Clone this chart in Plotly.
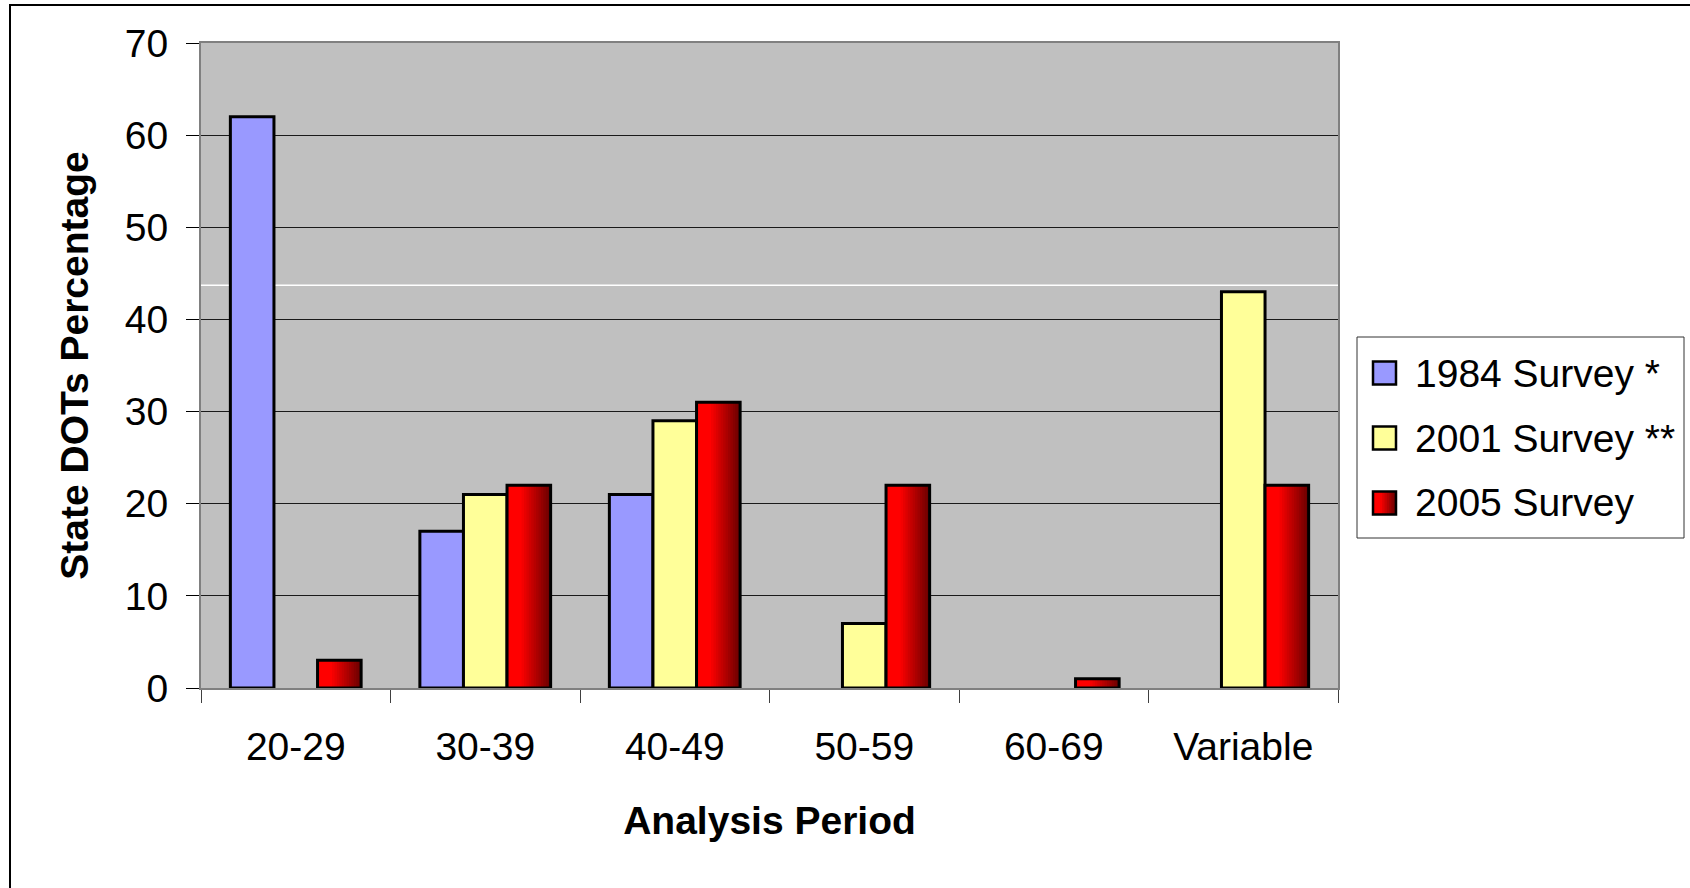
import plotly.graph_objects as go

# ---------------- data ----------------
categories = ["20-29", "30-39", "40-49", "50-59", "60-69", "Variable"]
survey_names = ["1984 Survey *", "2001 Survey **", "2005 Survey"]
values_1984 = [62, 17, 21, 0, 0, 0]
values_2001 = [0, 21, 29, 7, 0, 43]
values_2005 = [3, 22, 31, 22, 1, 22]
y_tick_values = [0, 10, 20, 30, 40, 50, 60, 70]
x_title = "Analysis Period"
y_title = "State DOTs Percentage"

# ---------------- style ----------------
W, H = 1690, 888
L, R, T, B = 201, 352, 43, 200
PW, PH = W - L - R, H - T - B
FONT = "Liberation Sans, Arial, sans-serif"
BLUE = "#9999FF"
YELLOW = "#FFFF99"
BAR_W = 0.23
OFFSETS = [-0.345, -0.115, 0.115]
N_STRIPS = 18


def red_grad(t):
    # bright red on the left, fading to dark red on the right
    if t < 0.3:
        r = 255
    else:
        r = int(round(255 - (255 - 110) * (t - 0.3) / 0.7))
    return "rgb(%d,0,0)" % r


def nz(vals):
    return [v if v != 0 else None for v in vals]


def px_x(p):
    return (p - L) / PW


def px_y(p):
    return (H - B - p) / PH


fig = go.Figure()

# solid series
for vals, col, off in [(values_1984, BLUE, OFFSETS[0]), (values_2001, YELLOW, OFFSETS[1])]:
    fig.add_trace(go.Bar(
        x=categories, y=nz(vals), width=BAR_W, offset=off,
        marker=dict(color=col, line=dict(color="black", width=3)),
        showlegend=False,
    ))

# gradient series: overlapping thin strips + outline
sw = BAR_W / N_STRIPS
for i in range(N_STRIPS):
    t = i / (N_STRIPS - 1)
    w = sw * 1.7 if i < N_STRIPS - 1 else sw
    fig.add_trace(go.Bar(
        x=categories, y=nz(values_2005), width=w, offset=OFFSETS[2] + i * sw,
        marker=dict(color=red_grad(t), line=dict(width=0)),
        showlegend=False, hoverinfo="skip",
    ))
fig.add_trace(go.Bar(
    x=categories, y=nz(values_2005), width=BAR_W, offset=OFFSETS[2],
    marker=dict(color="rgba(0,0,0,0)", line=dict(color="black", width=3)),
    showlegend=False, name=survey_names[2],
))

shapes = []
annotations = []

# faint white artifact line in plot area
shapes.append(dict(type="line", xref="paper", yref="y", x0=0, x1=1, y0=43.7, y1=43.7,
                   line=dict(color="white", width=1.5), layer="between"))

# outer chart border (top and left visible)
shapes.append(dict(type="rect", xref="paper", yref="paper",
                   x0=px_x(10), x1=px_x(W + 20), y0=px_y(H + 20), y1=px_y(5),
                   line=dict(color="black", width=2), fillcolor="rgba(0,0,0,0)", layer="above"))

# custom legend
shapes.append(dict(type="rect", xref="paper", yref="paper",
                   x0=px_x(1357), x1=px_x(1684), y0=px_y(538), y1=px_y(337),
                   line=dict(color="#333333", width=1), fillcolor="white", layer="above"))
row_centers = [373, 438, 503]
sx0, sx1 = 1373, 1396
swatch_fill = [BLUE, YELLOW, None]
for k, name in enumerate(survey_names):
    cy = row_centers[k]
    y0, y1 = px_y(cy + 11.5), px_y(cy - 11.5)
    if swatch_fill[k] is None:
        n = 10
        step = (sx1 - sx0) / n
        for i in range(n):
            shapes.append(dict(type="rect", xref="paper", yref="paper",
                               x0=px_x(sx0 + i * step), x1=px_x(sx0 + (i + 1) * step + 0.8),
                               y0=y0, y1=y1, line=dict(width=0),
                               fillcolor=red_grad(i / (n - 1)), layer="above"))
        shapes.append(dict(type="rect", xref="paper", yref="paper",
                           x0=px_x(sx0), x1=px_x(sx1), y0=y0, y1=y1,
                           line=dict(color="black", width=2.5),
                           fillcolor="rgba(0,0,0,0)", layer="above"))
    else:
        shapes.append(dict(type="rect", xref="paper", yref="paper",
                           x0=px_x(sx0), x1=px_x(sx1), y0=y0, y1=y1,
                           line=dict(color="black", width=2.5),
                           fillcolor=swatch_fill[k], layer="above"))
    annotations.append(dict(xref="paper", yref="paper", x=px_x(1413), y=px_y(cy),
                            xanchor="left", yanchor="middle", text=name, showarrow=False,
                            font=dict(family=FONT, size=39, color="black")))

fig.update_layout(
    width=W, height=H,
    margin=dict(l=L, r=R, t=T, b=B, pad=0),
    paper_bgcolor="white",
    plot_bgcolor="#C0C0C0",
    barmode="overlay",
    showlegend=False,
    font=dict(family=FONT, color="black"),
    shapes=shapes,
    annotations=annotations,
    xaxis=dict(
        type="category", categoryarray=categories, categoryorder="array",
        range=[-0.5, len(categories) - 0.5],
        showgrid=False, zeroline=False,
        showline=True, linecolor="#808080", linewidth=2, mirror=True,
        ticks="outside", ticklen=13, tickcolor="#404040", tickwidth=1,
        tickson="boundaries", ticklabelstandoff=23,
        tickfont=dict(family=FONT, size=39, color="black"),
        title=dict(text="<b>%s</b>" % x_title, standoff=40,
                   font=dict(family=FONT, size=39, color="black")),
    ),
    yaxis=dict(
        range=[0, 70], tickvals=y_tick_values,
        showgrid=True, gridcolor="#1a1a1a", gridwidth=1, zeroline=False,
        showline=True, linecolor="#808080", linewidth=2, mirror=True,
        ticks="outside", ticklen=13, tickcolor="black", tickwidth=1,
        ticklabelstandoff=10,
        tickfont=dict(family=FONT, size=39, color="black"),
        title=dict(text="<b>%s</b>" % y_title, standoff=24,
                   font=dict(family=FONT, size=39, color="black")),
    ),
)

fig.write_html(
    "out.html",
    config={"displayModeBar": False},
    post_script="document.body.style.margin='0px';document.body.style.overflow='hidden';",
)
